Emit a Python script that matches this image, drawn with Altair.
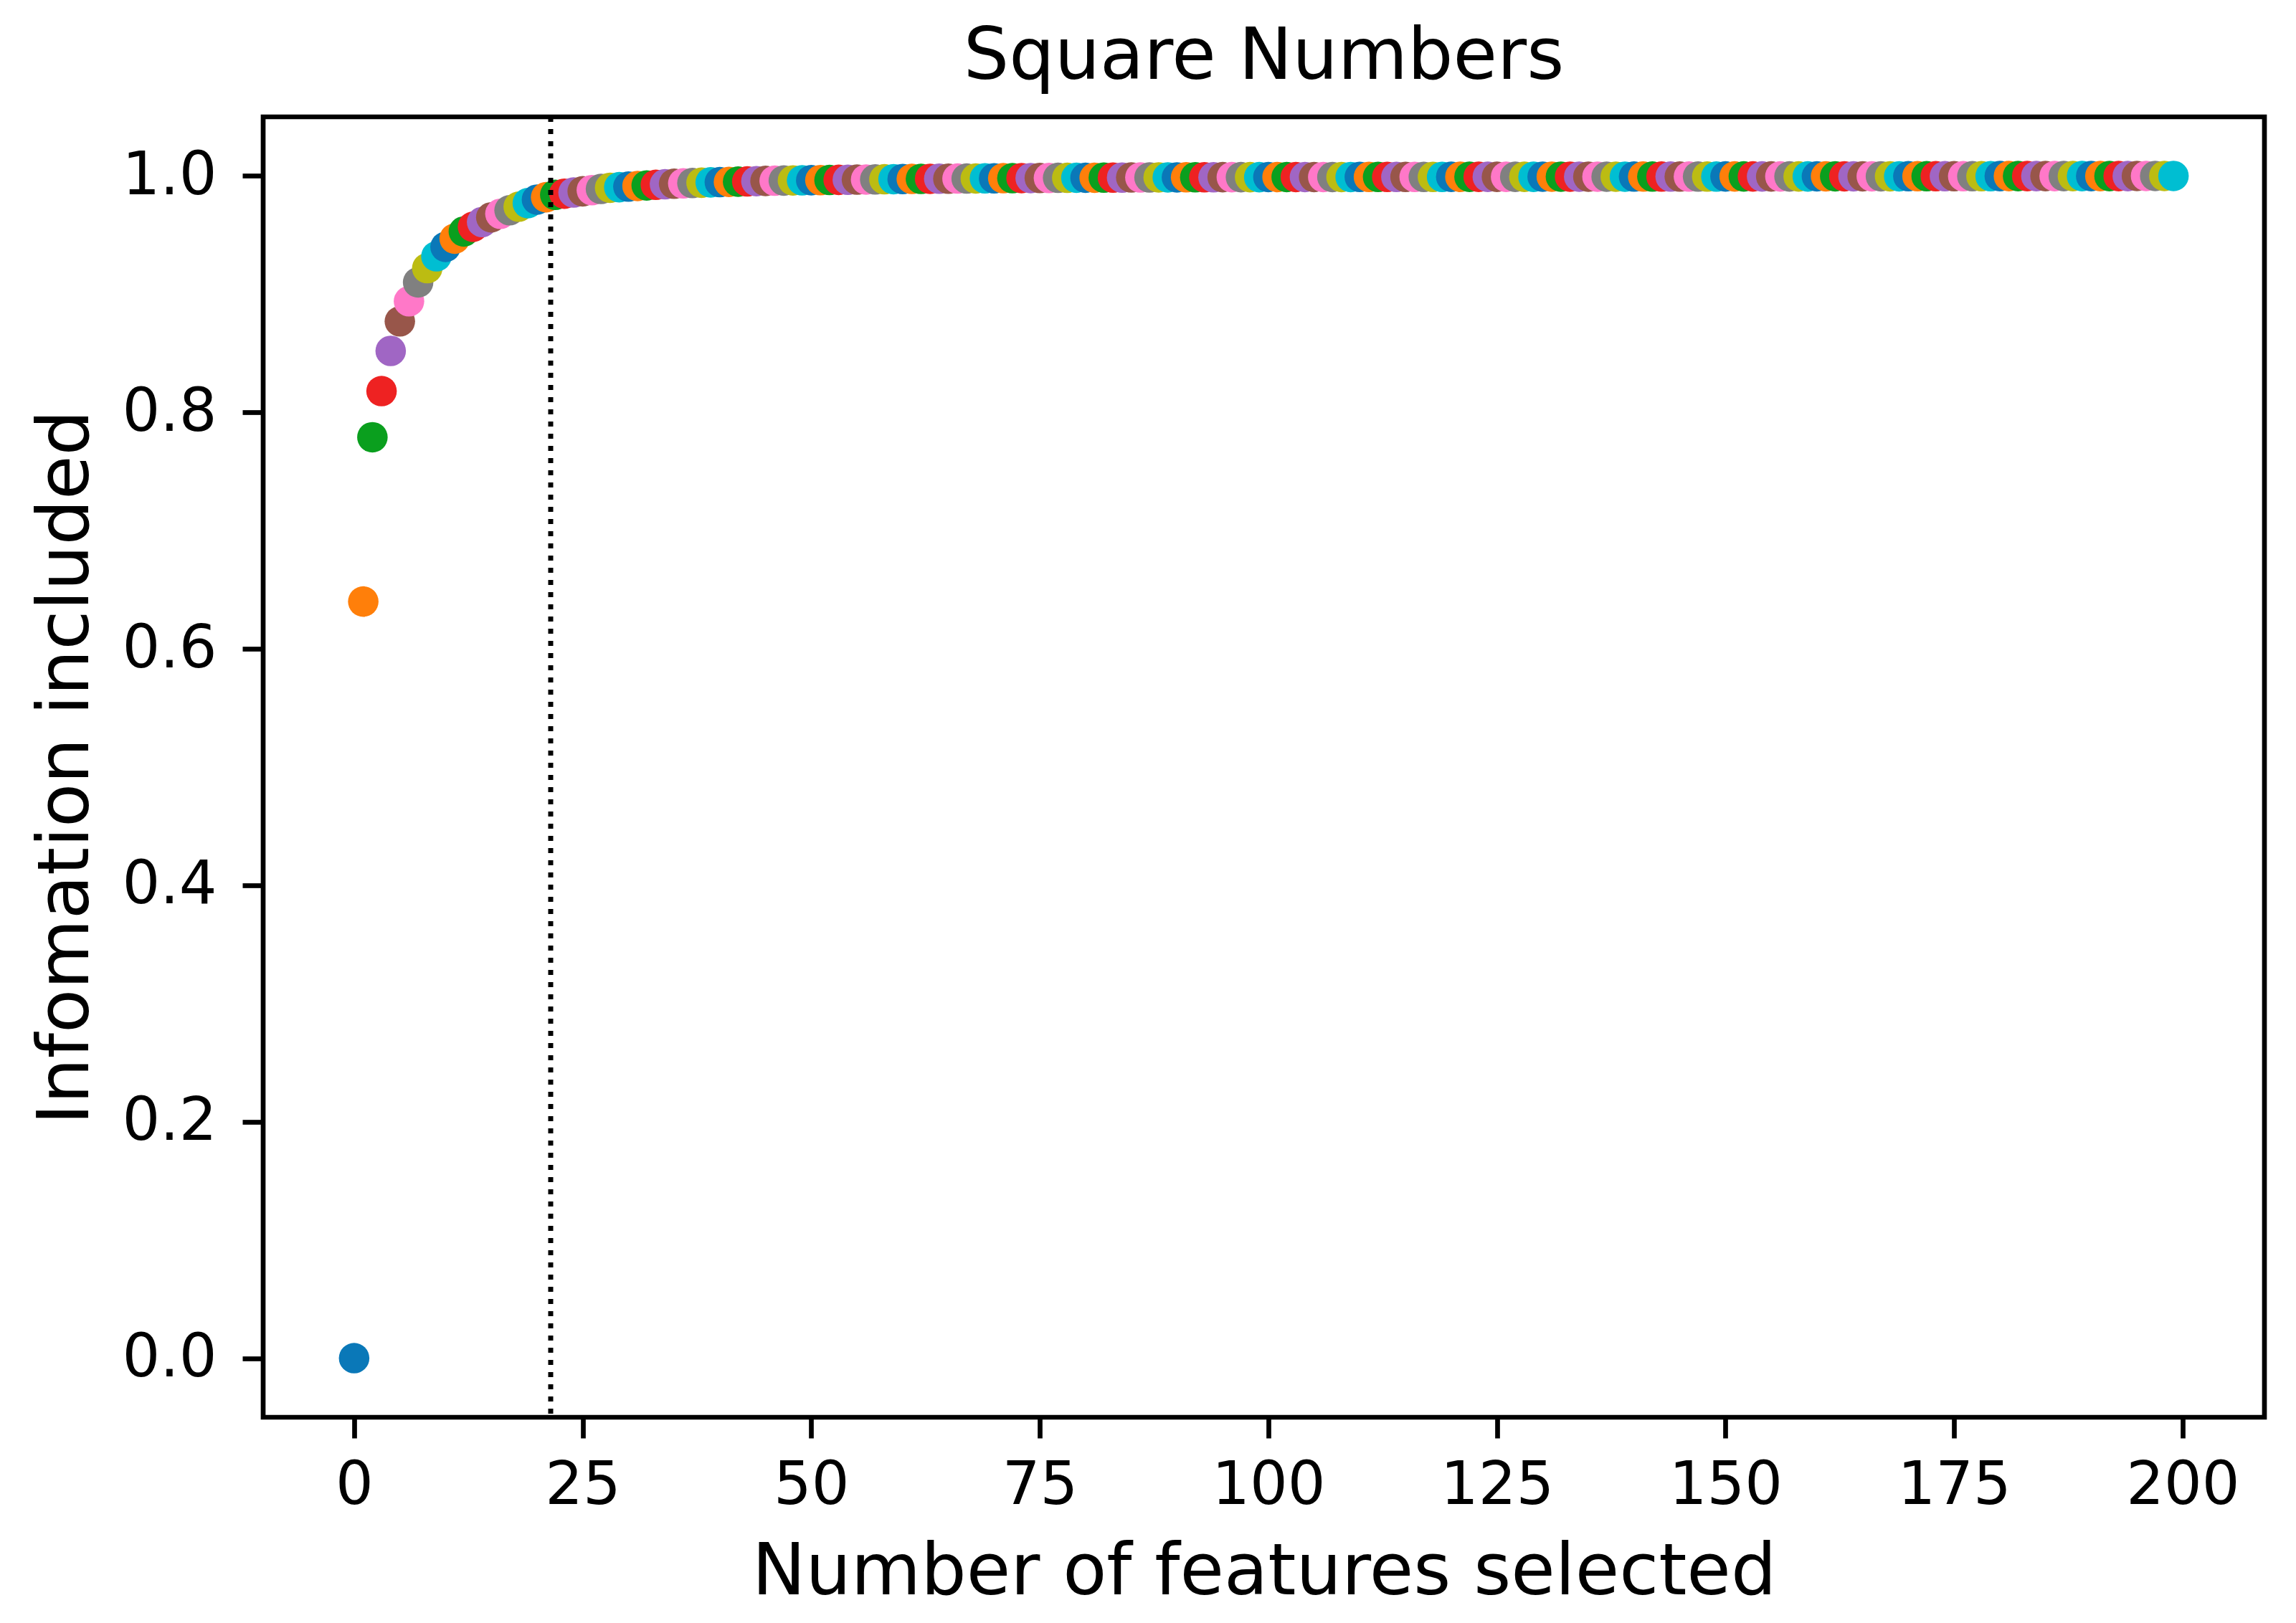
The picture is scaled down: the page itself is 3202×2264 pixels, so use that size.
import altair as alt
import pandas as pd

# ---- data ----
features = list(range(200))
info = [
    0.0, 0.640, 0.779, 0.818, 0.852, 0.877, 0.894, 0.910, 0.922, 0.932,
    0.940, 0.947, 0.953, 0.957, 0.961, 0.965, 0.968, 0.971, 0.974, 0.977,
    0.980, 0.982, 0.984, 0.985, 0.986, 0.987, 0.988, 0.989, 0.990, 0.9905,
    0.991, 0.9915, 0.992, 0.9925, 0.993, 0.9934, 0.9937, 0.994, 0.9943, 0.9946,
    0.9948, 0.995, 0.9952, 0.9954, 0.9956, 0.9958, 0.996, 0.9961, 0.9962, 0.9963,
    0.9964, 0.9965, 0.9966, 0.9967, 0.9968, 0.9969, 0.997, 0.9971, 0.9972, 0.9973,
    0.9974, 0.9975, 0.9975, 0.9976, 0.9977, 0.9977, 0.9978, 0.9978, 0.9979, 0.998,
    0.998, 0.9981, 0.9981, 0.9982, 0.9982, 0.9983, 0.9983, 0.9984, 0.9984, 0.9985,
    0.9985, 0.9985, 0.9986, 0.9986, 0.9986, 0.9987, 0.9987, 0.9987, 0.9988, 0.9988,
    0.9988, 0.9989, 0.9989, 0.9989, 0.9989, 0.999, 0.999, 0.999, 0.999, 0.999,
    0.9991, 0.9991, 0.9991, 0.9991, 0.9991, 0.9991, 0.9991, 0.9991, 0.9991, 0.9991,
    0.9992, 0.9992, 0.9992, 0.9992, 0.9992, 0.9992, 0.9992, 0.9992, 0.9992, 0.9992,
    0.9993, 0.9993, 0.9993, 0.9993, 0.9993, 0.9993, 0.9993, 0.9993, 0.9993, 0.9993,
    0.9994, 0.9994, 0.9994, 0.9994, 0.9994, 0.9994, 0.9994, 0.9994, 0.9994, 0.9994,
    0.9995, 0.9995, 0.9995, 0.9995, 0.9995, 0.9995, 0.9995, 0.9995, 0.9995, 0.9995,
    0.9996, 0.9996, 0.9996, 0.9996, 0.9996, 0.9996, 0.9996, 0.9996, 0.9996, 0.9996,
    0.9997, 0.9997, 0.9997, 0.9997, 0.9997, 0.9997, 0.9997, 0.9997, 0.9997, 0.9997,
    0.9998, 0.9998, 0.9998, 0.9998, 0.9998, 0.9998, 0.9998, 0.9998, 0.9998, 0.9998,
    0.9999, 0.9999, 0.9999, 0.9999, 0.9999, 0.9999, 0.9999, 0.9999, 0.9999, 0.9999,
    0.9999, 0.9999, 0.9999, 0.9999, 0.9999, 1.0, 1.0, 1.0, 1.0, 1.0,
]
cutoff = [21.5]
x_ticks = [0, 25, 50, 75, 100, 125, 150, 175, 200]
y_ticks = [0.0, 0.2, 0.4, 0.6, 0.8, 1.0]

palette = ["#0a78b8", "#ff7f0a", "#0a9f1e", "#ee2222", "#a066c4",
           "#98564a", "#ff78c8", "#808080", "#bcbc12", "#00bed2"]

df = pd.DataFrame({
    "n": features,
    "info": info,
    "color": [palette[i % len(palette)] for i in features],
})
df_cut = pd.DataFrame({"cut": cutoff})

W, H = 2791, 1814
FONT = "DejaVu Sans"

xscale = alt.Scale(domain=[-9.95, 208.95], nice=False, zero=False)
yscale = alt.Scale(domain=[-0.05, 1.05], nice=False, zero=False)

x_axis = alt.Axis(values=x_ticks, title="Number of features selected",
                  labelPadding=25, titleX=W / 2, titleY=246,
                  titleBaseline="alphabetic", titleAlign="center")
y_axis = alt.Axis(values=y_ticks, format=".1f", title="Infomation included",
                  labelPadding=36, titleX=-245, titleY=H / 2, titleAngle=270,
                  titleBaseline="alphabetic", titleAlign="center")

points = alt.Chart(df).mark_circle(size=1810, opacity=1).encode(
    x=alt.X("n:Q", scale=xscale, axis=x_axis),
    y=alt.Y("info:Q", scale=yscale, axis=y_axis),
    color=alt.Color("color:N", scale=None),
)

rule = alt.Chart(df_cut).mark_rule(color="black", strokeWidth=7,
                                   strokeDash=[7, 10]).encode(
    x=alt.X("cut:Q", scale=xscale, axis=x_axis),
)

chart = alt.layer(points, rule).properties(
    width=W,
    height=H,
    title=alt.TitleParams("Square Numbers", fontSize=100, font=FONT,
                          fontWeight="normal", color="black", anchor="middle",
                          frame="group", baseline="alphabetic", offset=-50),
    autosize=alt.AutoSizeParams(type="none"),
    padding={"left": 359, "top": 155, "right": 30, "bottom": 285},
).configure_view(
    stroke="black", strokeWidth=6.7
).configure_axis(
    domain=False, grid=False, ticks=True, tickSize=29, tickWidth=6.7,
    tickColor="black", labelFont=FONT, labelFontSize=83, labelColor="black",
    titleFont=FONT, titleFontSize=100, titleFontWeight="normal", titleColor="black",
)

chart.save("out.html", embed_options={"renderer": "svg", "actions": False})
